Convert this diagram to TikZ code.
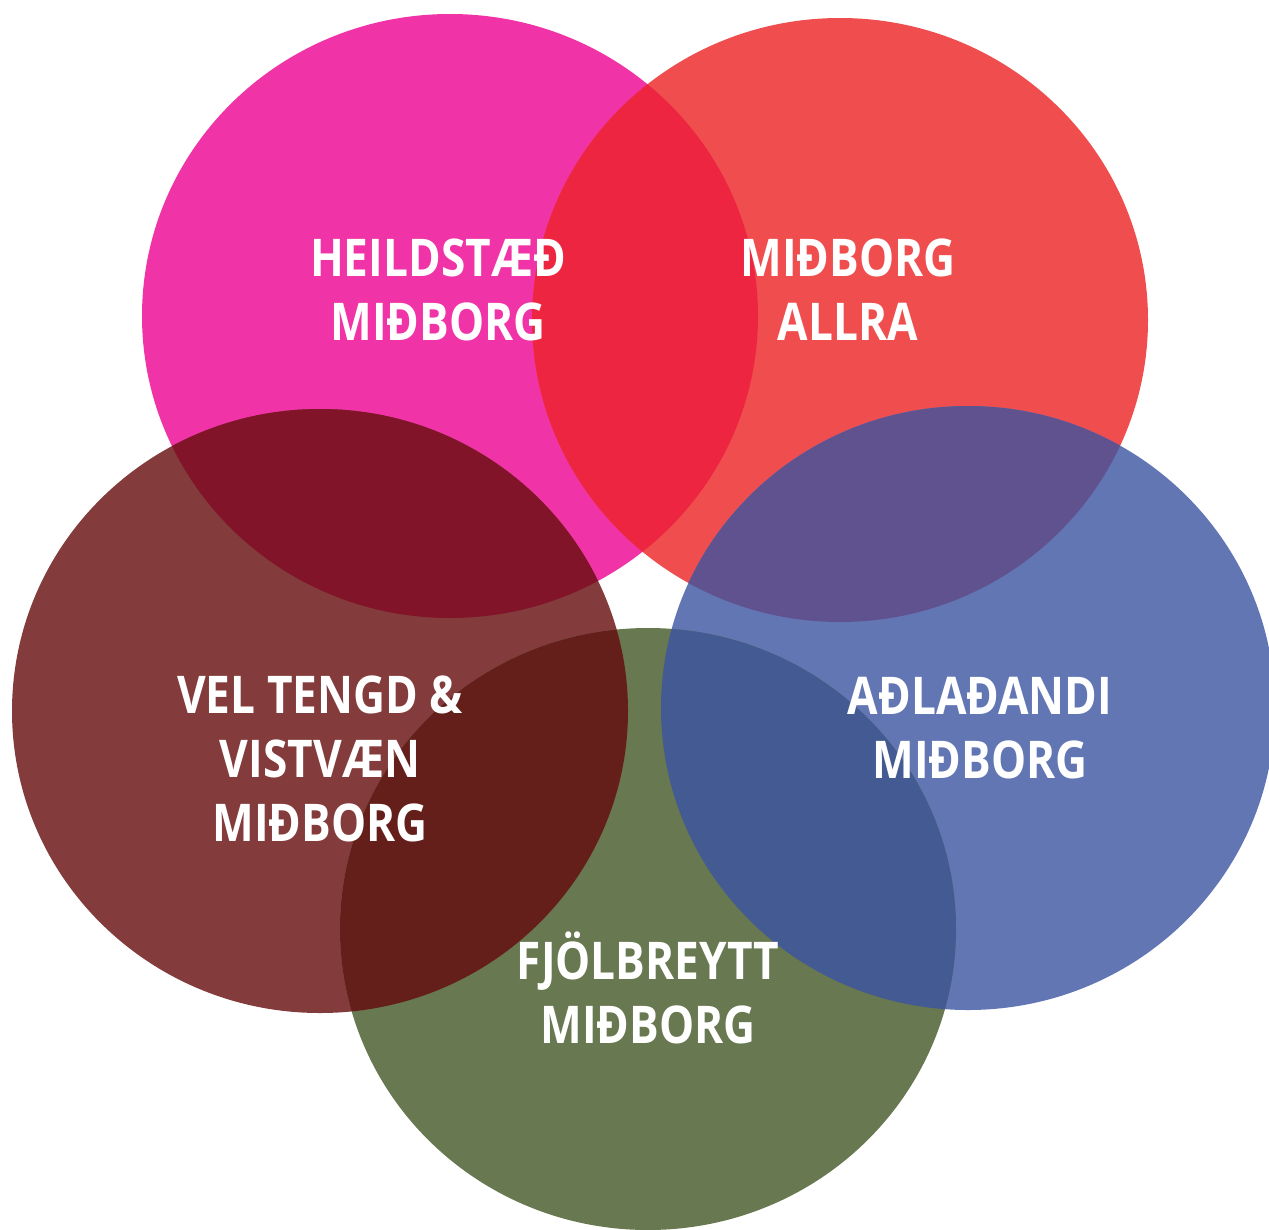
\documentclass[tikz,border=0pt]{standalone}
\usepackage{fontspec}
\setmainfont{Open Sans}
\newfontfamily\labelfont[FakeStretch=0.85]{Open Sans}
\definecolor{cpink}{RGB}{240,51,166}
\definecolor{cred}{RGB}{240,78,78}
\definecolor{cmaroon}{RGB}{131,59,59}
\definecolor{cblue}{RGB}{98,118,180}
\definecolor{cgreen}{RGB}{104,120,80}
\definecolor{pinkred}{RGB}{237,37,64}
\definecolor{pinkmaroon}{RGB}{130,20,42}
\definecolor{redblue}{RGB}{95,82,143}
\definecolor{maroongreen}{RGB}{101,31,26}
\definecolor{bluegreen}{RGB}{67,90,146}
\tikzset{
  label/.style={text=white, align=center, font=\labelfont\fontsize{52}{64}\selectfont\bfseries, inner sep=0pt}
}
\begin{document}
\begin{tikzpicture}[x=1pt,y=1pt]
\useasboundingbox (0,0) rectangle (1269,-1229);
\def\pinkE{(450,-316) ellipse [x radius=308, y radius=302]}
\def\redE{(840,-320) ellipse [x radius=308, y radius=302]}
\def\maroonE{(320,-711) ellipse [x radius=308, y radius=302]}
\def\blueE{(968,-708) ellipse [x radius=307, y radius=302]}
\def\greenE{(648,-929) ellipse [x radius=308, y radius=301]}
\fill[cpink] \pinkE;
\fill[cred] \redE;
\fill[cmaroon] \maroonE;
\fill[cblue] \blueE;
\fill[cgreen] \greenE;
\begin{scope}\clip \pinkE; \fill[pinkred] \redE; \end{scope}
\begin{scope}\clip \pinkE; \fill[pinkmaroon] \maroonE; \end{scope}
\begin{scope}\clip \redE; \fill[redblue] \blueE; \end{scope}
\begin{scope}\clip \maroonE; \fill[maroongreen] \greenE; \end{scope}
\begin{scope}\clip \blueE; \fill[bluegreen] \greenE; \end{scope}
\node[label] (t1) at (438,-290) {HEILDSTÆÐ\\MIÐBORG};
\node[label] (t2) at (848,-290) {MIÐBORG\\ALLRA};
\node[label] (t3) at (320,-759) {VEL TENGD \&\\VISTVÆN\\MIÐBORG};
\node[label] (t4) at (980,-728) {AÐLAÐANDI\\MIÐBORG};
\node[label] (t5) at (648,-988) {FJÖLBREYTT\\MIÐBORG};
\end{tikzpicture}
\end{document}
